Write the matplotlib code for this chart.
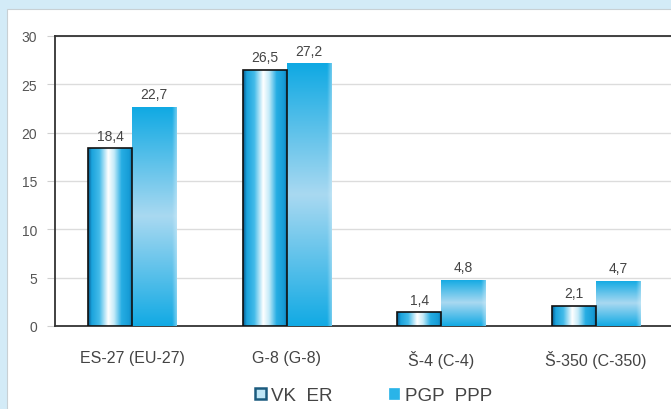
import numpy as np
from matplotlib import pyplot as plt
from matplotlib.patches import Rectangle
from matplotlib.colors import LinearSegmentedColormap, to_rgb

categories = ["ES-27 (EU-27)", "G-8 (G-8)", "Š-4 (C-4)", "Š-350 (C-350)"]
vk_er = [18.4, 26.5, 1.4, 2.1]
pgp_ppp = [22.7, 27.2, 4.8, 4.7]
series_names = ["VK  ER", "PGP  PPP"]
yticks = [0, 5, 10, 15, 20, 25, 30]

plt.rcParams['font.family'] = ['Liberation Sans', 'DejaVu Sans']
text_col = "#444444"

fig = plt.figure(figsize=(6.71, 4.10), dpi=100)
fig.patch.set_facecolor("#d3ebf7")
# white panel behind the chart
fig.patches.append(Rectangle((7 / 671, -0.01), 1, 1.01 - 10 / 410, transform=fig.transFigure,
                             facecolor="white", edgecolor="#c8d0d4", lw=0.8, zorder=-5))

ax = fig.add_axes([55 / 671, 1 - 327 / 410, 618 / 671, 290 / 410])
ax.set_facecolor("none")

x = np.arange(len(categories))
w = 0.285

# horizontal "cylinder" gradient for VK ER
vk_cmap = LinearSegmentedColormap.from_list("vk", [
    (0.0, "#0a5a8c"), (0.08, "#1aa3dc"), (0.25, "#43bbe9"), (0.45, "#ffffff"),
    (0.58, "#c5ebf9"), (0.75, "#26ade3"), (0.92, "#169cd6"), (1.0, "#0b6a9e")])
vk_img = vk_cmap(np.linspace(0, 1, 200))[None, :, :3]

# vertical gradient for PGP PPP, with a light strip on the right edge
top = np.array(to_rgb("#0fa9e3"))
mid = np.array(to_rgb("#a9d9f1"))
bot = np.array(to_rgb("#12aae4"))
t = np.linspace(0, 1, 200)[:, None]
vert = np.where(t < 0.5, 1 - t / 0.5, 0)[:, :, None] * top + \
       np.where(t < 0.5, t / 0.5, (1 - t) / 0.5)[:, :, None] * mid + \
       np.where(t >= 0.5, (t - 0.5) / 0.5, 0)[:, :, None] * bot
u = np.linspace(0, 1, 60)[None, :, None]
edge = np.clip((u - 0.9) / 0.1, 0, 1) * 0.45
pgp_img = vert * (1 - edge) + edge * np.array([0.85, 0.94, 0.98])

bars1 = ax.bar(x - w / 2, vk_er, w, facecolor="none", edgecolor="#111111", lw=1.2, zorder=4)
bars2 = ax.bar(x + w / 2, pgp_ppp, w, facecolor="none", edgecolor="none", zorder=4)

for b in bars1:
    im = ax.imshow(vk_img, extent=(b.get_x(), b.get_x() + b.get_width(), 0, b.get_height()),
                   aspect="auto", zorder=3)
    im.set_clip_path(b)
for b in bars2:
    im = ax.imshow(pgp_img, extent=(b.get_x(), b.get_x() + b.get_width(), 0, b.get_height()),
                   aspect="auto", origin="upper", zorder=3)
    im.set_clip_path(b)

for bars, vals in [(bars1, vk_er), (bars2, pgp_ppp)]:
    for b, v in zip(bars, vals):
        ax.annotate(f"{v}".replace(".", ","), (b.get_x() + b.get_width() / 2, v),
                    xytext=(0, 4), textcoords="offset points", ha="center", va="bottom",
                    fontsize=10, color=text_col, zorder=5)

ax.set_xlim(-0.5, 3.5)
ax.set_ylim(0, 30)
ax.set_yticks(yticks)
ax.yaxis.grid(True, color="#dcdcdc", lw=1)
ax.set_axisbelow(True)
ax.set_xticks(x)
ax.set_xticklabels(categories, fontsize=11.5, color=text_col)
ax.tick_params(axis="x", length=0, pad=17)
ax.tick_params(axis="y", length=6, color="#d0d0d0", labelsize=10, labelcolor="#555555", pad=7)
for s in ["left", "bottom", "top"]:
    ax.spines[s].set_color("#333333")
    ax.spines[s].set_linewidth(1.3)
ax.spines["right"].set_visible(False)

h1 = Rectangle((0, 0), 1, 1, facecolor="#bfe6f6", edgecolor="#1b5b7e", lw=1.8)
h2 = Rectangle((0, 0), 1, 1, facecolor="#2ab4e8", edgecolor="#2ab4e8", lw=0.5)
fig.legend([h1, h2], series_names, loc="center", bbox_to_anchor=(0.557, 0.032), ncol=2,
           frameon=False, fontsize=13.5, handlelength=0.55, handleheight=0.55,
           handletextpad=0.3, columnspacing=3.0, labelcolor=text_col)

plt.savefig("out.png", dpi=100)
